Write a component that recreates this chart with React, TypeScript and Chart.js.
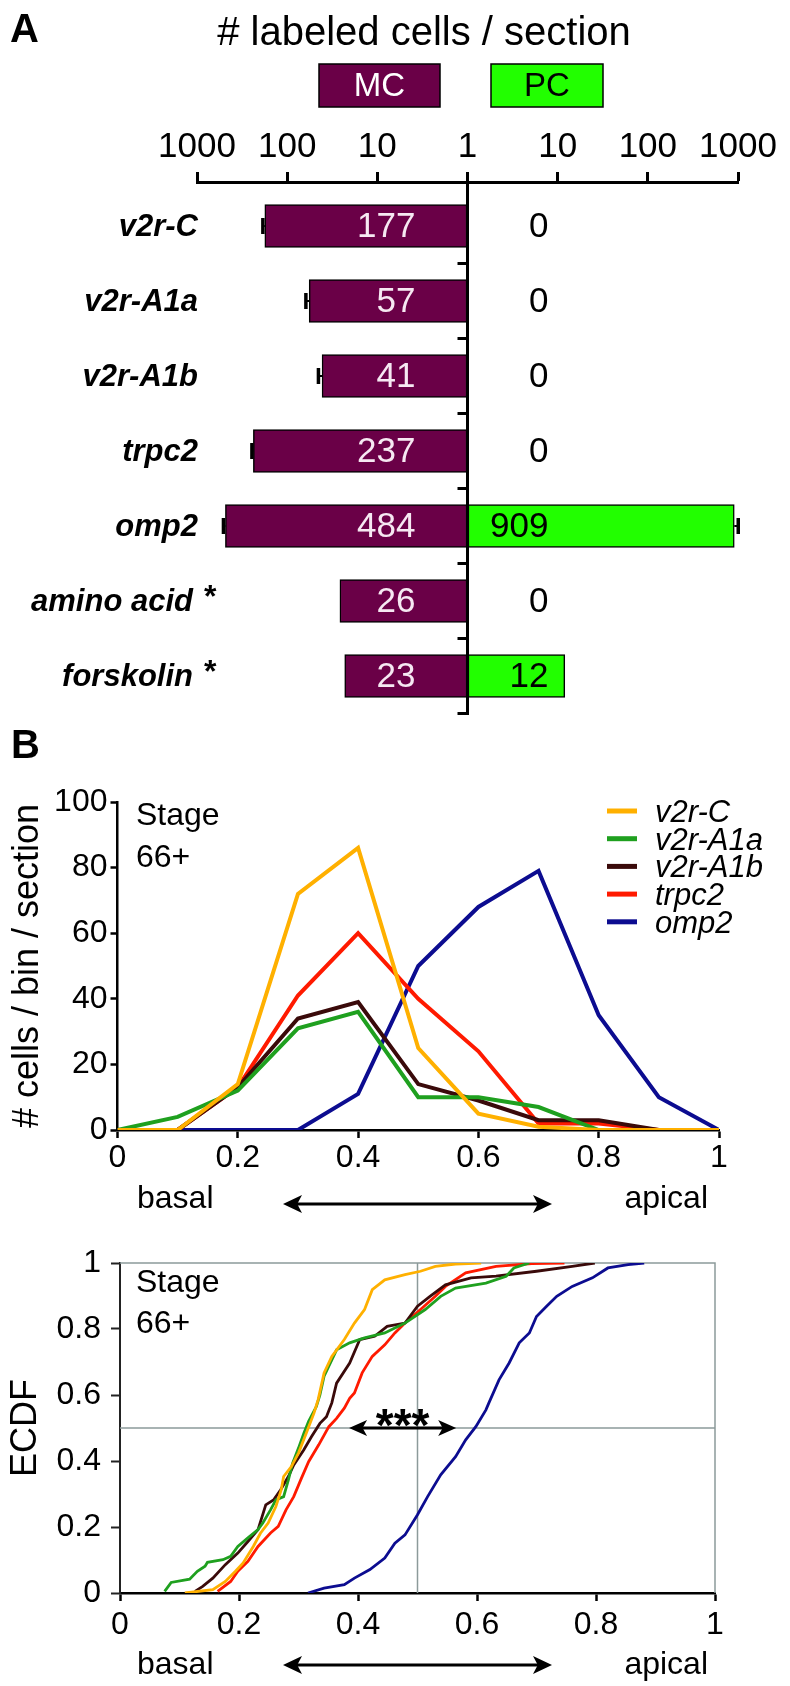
import React, { useEffect, useRef } from 'react';
import { Chart, registerables } from 'chart.js';

Chart.register(...registerables);

const FONT = "'Liberation Sans', Arial, Helvetica, sans-serif";

// ---------------- Panel A : labeled cells per section ----------------
const rowLabels = ['v2r-C', 'v2r-A1a', 'v2r-A1b', 'trpc2', 'omp2', 'amino acid', 'forskolin'];
const rowStarred = [false, false, false, false, false, true, true];
const mcCounts = [177, 57, 41, 237, 484, 26, 23];
const mcErrors = [9, 5, 4, 9, 25, 0, 0];
const pcCounts = [0, 0, 0, 0, 909, 0, 12];
const pcErrors = [0, 0, 0, 0, 97, 0, 0];
const logTickValues = [-3, -2, -1, 0, 1, 2, 3];
const logTickLabels = ['1000', '100', '10', '1', '10', '100', '1000'];
const MC_COLOR = '#6a0047';
const PC_COLOR = '#22ff00';

// ---------------- Panel B : histogram along basal-apical axis ----------------
const binPositions = [0, 0.1, 0.2, 0.3, 0.4, 0.5, 0.6, 0.7, 0.8, 0.9, 1];
const histV2rC = [0, 0, 14, 72, 86, 25, 5, 1, 0, 0, 0];
const histV2rA1a = [0, 4, 12, 31, 36, 10, 10, 7, 0, 0, 0];
const histV2rA1b = [0, 0, 13, 34, 39, 14, 9, 3, 3, 0, 0];
const histTrpc2 = [0, 0, 13, 41, 60, 40, 24, 2, 2, 0, 0];
const histOmp2 = [0, 0, 0, 0, 11, 50, 68, 79, 35, 10, 0];

const seriesNames = ['v2r-C', 'v2r-A1a', 'v2r-A1b', 'trpc2', 'omp2'];
const seriesColors = ['#ffb000', '#1fa01f', '#3a0a0a', '#ff1a00', '#0c0c90'];

// ---------------- Panel C : ECDF ----------------
const ecdfV2rCX = [0.109, 0.156, 0.177, 0.194, 0.207, 0.224, 0.236, 0.249, 0.262, 0.271, 0.275, 0.288, 0.300, 0.313, 0.326, 0.333, 0.343, 0.356, 0.377, 0.394, 0.411, 0.424, 0.445, 0.479, 0.505, 0.530, 0.564, 0.607];
const ecdfV2rCY = [0, 0.010, 0.035, 0.066, 0.091, 0.141, 0.181, 0.212, 0.262, 0.313, 0.353, 0.383, 0.424, 0.484, 0.545, 0.586, 0.667, 0.717, 0.768, 0.818, 0.859, 0.919, 0.949, 0.965, 0.975, 0.990, 0.997, 1.0];
const ecdfV2rA1aX = [0.075, 0.086, 0.117, 0.130, 0.143, 0.147, 0.173, 0.186, 0.198, 0.215, 0.232, 0.240, 0.253, 0.262, 0.275, 0.283, 0.290, 0.300, 0.309, 0.317, 0.330, 0.336, 0.343, 0.364, 0.386, 0.411, 0.445, 0.479, 0.513, 0.539, 0.564, 0.615, 0.649, 0.662, 0.688];
const ecdfV2rA1aY = [0.005, 0.032, 0.042, 0.066, 0.081, 0.093, 0.101, 0.111, 0.141, 0.167, 0.192, 0.212, 0.252, 0.282, 0.292, 0.343, 0.393, 0.439, 0.484, 0.520, 0.565, 0.600, 0.657, 0.737, 0.758, 0.773, 0.788, 0.818, 0.859, 0.899, 0.924, 0.939, 0.960, 0.985, 1.0];
const ecdfV2rA1bX = [0.126, 0.139, 0.156, 0.177, 0.198, 0.215, 0.232, 0.245, 0.258, 0.270, 0.283, 0.292, 0.309, 0.322, 0.336, 0.347, 0.356, 0.364, 0.386, 0.403, 0.428, 0.449, 0.479, 0.500, 0.521, 0.547, 0.590, 0.632, 0.700, 0.760, 0.798];
const ecdfV2rA1bY = [0.005, 0.020, 0.045, 0.086, 0.121, 0.156, 0.192, 0.267, 0.282, 0.313, 0.353, 0.388, 0.434, 0.474, 0.514, 0.534, 0.576, 0.636, 0.697, 0.768, 0.778, 0.808, 0.818, 0.869, 0.899, 0.934, 0.955, 0.960, 0.975, 0.990, 1.0];
const ecdfTrpc2X = [0.164, 0.186, 0.198, 0.215, 0.232, 0.253, 0.266, 0.279, 0.292, 0.305, 0.317, 0.334, 0.351, 0.364, 0.377, 0.386, 0.394, 0.407, 0.424, 0.445, 0.462, 0.479, 0.505, 0.530, 0.547, 0.581, 0.632, 0.692, 0.747];
const ecdfTrpc2Y = [0.005, 0.035, 0.066, 0.096, 0.141, 0.182, 0.202, 0.252, 0.292, 0.348, 0.398, 0.449, 0.504, 0.529, 0.560, 0.590, 0.606, 0.667, 0.717, 0.752, 0.788, 0.818, 0.859, 0.899, 0.929, 0.970, 0.990, 0.998, 1.0];
const ecdfOmp2X = [0.316, 0.343, 0.377, 0.394, 0.420, 0.445, 0.462, 0.479, 0.500, 0.517, 0.539, 0.564, 0.581, 0.598, 0.615, 0.620, 0.637, 0.654, 0.671, 0.688, 0.700, 0.717, 0.734, 0.760, 0.794, 0.820, 0.854, 0.881];
const ecdfOmp2Y = [0.0, 0.015, 0.025, 0.045, 0.071, 0.106, 0.151, 0.176, 0.237, 0.292, 0.358, 0.413, 0.464, 0.504, 0.555, 0.576, 0.646, 0.697, 0.758, 0.788, 0.838, 0.869, 0.899, 0.929, 0.955, 0.985, 0.995, 1.0];
const significanceSpan = [0.385, 0.565];
const GRAY = '#8c9a9a';

function font(size: number, weight = 'normal', style = 'normal') {
  return `${style} ${weight} ${size}px ${FONT}`;
}

const fmtTick = (v: number) => String(Math.round(v * 10) / 10);

function drawDoubleArrow(ctx: CanvasRenderingContext2D, x1: number, x2: number, y: number, lw: number, hl: number, hh: number) {
  ctx.save();
  ctx.strokeStyle = '#000';
  ctx.fillStyle = '#000';
  ctx.lineWidth = lw;
  ctx.beginPath();
  ctx.moveTo(x1 + hl * 0.7, y);
  ctx.lineTo(x2 - hl * 0.7, y);
  ctx.stroke();
  ctx.beginPath();
  ctx.moveTo(x1, y);
  ctx.lineTo(x1 + hl, y - hh);
  ctx.lineTo(x1 + hl * 0.75, y);
  ctx.lineTo(x1 + hl, y + hh);
  ctx.closePath();
  ctx.fill();
  ctx.beginPath();
  ctx.moveTo(x2, y);
  ctx.lineTo(x2 - hl, y - hh);
  ctx.lineTo(x2 - hl * 0.75, y);
  ctx.lineTo(x2 - hl, y + hh);
  ctx.closePath();
  ctx.fill();
  ctx.restore();
}

function drawRotated(ctx: CanvasRenderingContext2D, text: string, cx: number, cy: number, f: string) {
  ctx.save();
  ctx.translate(cx, cy);
  ctx.rotate(-Math.PI / 2);
  ctx.font = f;
  ctx.fillStyle = '#000';
  ctx.textAlign = 'center';
  ctx.textBaseline = 'middle';
  ctx.fillText(text, 0, 0);
  ctx.restore();
}

function drawBasalApical(ctx: CanvasRenderingContext2D, textY: number, arrowY: number) {
  ctx.save();
  ctx.font = font(32);
  ctx.fillStyle = '#000';
  ctx.textBaseline = 'middle';
  ctx.textAlign = 'left';
  ctx.fillText('basal', 137, textY);
  ctx.textAlign = 'right';
  ctx.fillText('apical', 708, textY);
  ctx.restore();
  drawDoubleArrow(ctx, 283, 552, arrowY, 3, 19, 9);
}

function drawStage(ctx: CanvasRenderingContext2D, x: number, y1: number, y2: number) {
  ctx.save();
  ctx.font = font(32);
  ctx.fillStyle = '#000';
  ctx.textAlign = 'left';
  ctx.textBaseline = 'alphabetic';
  ctx.fillText('Stage', x, y1);
  ctx.fillText('66+', x, y2);
  ctx.restore();
}

// ---------------- configs ----------------
function configA(): any {
  const mcData = mcCounts.map((v, i) => ({ y: i, x: [-Math.log10(v), 0] }));
  const pcData = pcCounts
    .map((v, i) => (v > 0 ? { y: i, x: [0, Math.log10(v)] } : null))
    .filter((d) => d !== null);

  const plugin = {
    id: 'panelA',
    afterDatasetsDraw(chart: any) {
      const ctx: CanvasRenderingContext2D = chart.ctx;
      const xs = chart.scales.x;
      const ys = chart.scales.y;
      const x0 = xs.getPixelForValue(0);
      ctx.save();
      ctx.strokeStyle = '#000';
      const drawErr = (xb: number, xe: number, yc: number) => {
        ctx.lineWidth = 2;
        ctx.beginPath();
        ctx.moveTo(xb, yc);
        ctx.lineTo(xe, yc);
        ctx.stroke();
        ctx.lineWidth = 3.5;
        ctx.beginPath();
        ctx.moveTo(xe, yc - 8);
        ctx.lineTo(xe, yc + 8);
        ctx.stroke();
      };
      mcCounts.forEach((v, i) => {
        if (!mcErrors[i]) return;
        const yc = ys.getPixelForValue(i);
        drawErr(xs.getPixelForValue(-Math.log10(v)), xs.getPixelForValue(-Math.log10(v + mcErrors[i])), yc);
      });
      pcCounts.forEach((v, i) => {
        if (!pcErrors[i] || v <= 0) return;
        const yc = ys.getPixelForValue(i);
        drawErr(xs.getPixelForValue(Math.log10(v)), xs.getPixelForValue(Math.log10(v + pcErrors[i])), yc);
      });
      // centre axis line with row-boundary ticks
      ctx.lineWidth = 3;
      ctx.beginPath();
      ctx.moveTo(x0, chart.chartArea.top);
      ctx.lineTo(x0, ys.getPixelForValue(rowLabels.length - 0.5) + 1.5);
      ctx.stroke();
      for (let i = 0; i < rowLabels.length; i++) {
        const y = ys.getPixelForValue(i + 0.5);
        ctx.beginPath();
        ctx.moveTo(x0 - 10, y);
        ctx.lineTo(x0, y);
        ctx.stroke();
      }
      // category labels
      ctx.fillStyle = '#000';
      ctx.textBaseline = 'middle';
      rowLabels.forEach((lab, i) => {
        const yc = ys.getPixelForValue(i) + 1;
        ctx.font = font(31, 'bold', 'italic');
        ctx.textAlign = 'right';
        if (rowStarred[i]) {
          ctx.fillText(lab, 193, yc);
          ctx.font = font(32, 'bold');
          ctx.textAlign = 'left';
          ctx.textBaseline = 'alphabetic';
          ctx.fillText('*', 204, yc + 5);
          ctx.textBaseline = 'middle';
        } else {
          ctx.fillText(lab, 198, yc);
        }
      });
      // value labels
      ctx.font = font(35);
      ctx.textAlign = 'right';
      mcCounts.forEach((v, i) => {
        ctx.fillStyle = '#f6e8f2';
        ctx.fillText(String(v), x0 - 52, ys.getPixelForValue(i) + 1);
      });
      pcCounts.forEach((v, i) => {
        ctx.fillStyle = '#000';
        ctx.fillText(String(v), x0 + 81, ys.getPixelForValue(i) + 1);
      });
      ctx.restore();
    },
    afterDraw(chart: any) {
      const ctx: CanvasRenderingContext2D = chart.ctx;
      ctx.save();
      ctx.fillStyle = '#000';
      ctx.font = font(40, 'bold');
      ctx.textAlign = 'left';
      ctx.textBaseline = 'alphabetic';
      ctx.fillText('A', 10, 42);
      ctx.font = font(40);
      ctx.textAlign = 'center';
      ctx.fillText('# labeled cells / section', 424, 45);
      const boxes = [
        { x: 319, w: 121, fill: MC_COLOR, text: 'MC', tc: '#ffffff' },
        { x: 491, w: 112, fill: PC_COLOR, text: 'PC', tc: '#000000' },
      ];
      boxes.forEach((b) => {
        ctx.fillStyle = b.fill;
        ctx.fillRect(b.x, 64, b.w, 43);
        ctx.lineWidth = 1.5;
        ctx.strokeStyle = '#000';
        ctx.strokeRect(b.x, 64, b.w, 43);
        ctx.fillStyle = b.tc;
        ctx.font = font(33);
        ctx.textAlign = 'center';
        ctx.textBaseline = 'middle';
        ctx.fillText(b.text, b.x + b.w / 2, 87);
      });
      ctx.restore();
    },
  };

  return {
    type: 'bar',
    data: {
      datasets: [
        { label: 'MC', data: mcData, backgroundColor: MC_COLOR, borderColor: '#000', borderWidth: 1.5, borderSkipped: false, barThickness: 43, grouped: false },
        { label: 'PC', data: pcData, backgroundColor: PC_COLOR, borderColor: '#000', borderWidth: 1.5, borderSkipped: false, barThickness: 43, grouped: false },
      ],
    },
    options: {
      indexAxis: 'y',
      responsive: false,
      animation: false,
      devicePixelRatio: 1,
      events: [],
      layout: { padding: { left: 197, right: 52, top: 0, bottom: 11.5 } },
      plugins: { legend: { display: false }, tooltip: { enabled: false } },
      scales: {
        x: {
          type: 'linear',
          position: 'top',
          bounds: 'data',
          min: -3,
          max: 3,
          afterBuildTicks: (s: any) => {
            s.ticks = logTickValues.map((v) => ({ value: v }));
          },
          afterFit: (s: any) => {
            s.height = 182;
          },
          ticks: {
            callback: (v: number) => logTickLabels[logTickValues.indexOf(v)],
            font: { family: FONT, size: 35 },
            color: '#000',
            padding: 3.5,
            maxRotation: 0,
            autoSkip: false,
          },
          grid: { drawOnChartArea: false, drawTicks: true, tickLength: 10, tickWidth: 3, tickColor: '#000' },
          border: { display: true, color: '#000', width: 3 },
        },
        y: {
          type: 'linear',
          bounds: 'data',
          reverse: true,
          min: -0.587,
          max: 6.5,
          offset: false,
          display: false,
          afterDataLimits: (s: any) => {
            s.min = -0.587;
            s.max = 6.5;
          },
        },
      },
    },
    plugins: [plugin],
  };
}

function configB(): any {
  const hist = [histV2rC, histV2rA1a, histV2rA1b, histTrpc2, histOmp2];
  const plugin = {
    id: 'panelB',
    afterDraw(chart: any) {
      const ctx: CanvasRenderingContext2D = chart.ctx;
      const area = chart.chartArea;
      ctx.save();
      ctx.fillStyle = '#000';
      ctx.font = font(40, 'bold');
      ctx.textAlign = 'left';
      ctx.textBaseline = 'alphabetic';
      ctx.fillText('B', 11, 33);
      ctx.restore();
      drawRotated(ctx, '# cells / bin / section', 28, (area.top + area.bottom) / 2, font(36));
      drawStage(ctx, 136, 100, 142);
      ctx.save();
      seriesNames.forEach((n, i) => {
        const y = 86 + i * 27.7;
        ctx.strokeStyle = seriesColors[i];
        ctx.lineWidth = 5;
        ctx.beginPath();
        ctx.moveTo(607, y);
        ctx.lineTo(637, y);
        ctx.stroke();
        ctx.fillStyle = '#000';
        ctx.font = font(31, 'normal', 'italic');
        ctx.textAlign = 'left';
        ctx.textBaseline = 'alphabetic';
        ctx.fillText(n, 655, y + 11);
      });
      ctx.restore();
      drawBasalApical(ctx, 1199 - 725, 1204 - 725);
    },
  };
  return {
    type: 'line',
    data: {
      datasets: hist.map((arr, k) => ({
        label: seriesNames[k],
        data: binPositions.map((x, i) => ({ x, y: arr[i] })),
        borderColor: seriesColors[k],
        borderWidth: 4,
        pointRadius: 0,
        tension: 0,
        fill: false,
      })),
    },
    options: {
      responsive: false,
      animation: false,
      devicePixelRatio: 1,
      events: [],
      layout: { padding: { left: 0, right: 71, top: 77, bottom: 0 } },
      plugins: { legend: { display: false }, tooltip: { enabled: false } },
      scales: {
        x: {
          type: 'linear',
          bounds: 'data',
          min: 0,
          max: 1,
          afterFit: (s: any) => {
            s.height = 90;
          },
          ticks: { stepSize: 0.2, callback: fmtTick, font: { family: FONT, size: 32 }, color: '#000', padding: 1, maxRotation: 0 },
          grid: { drawOnChartArea: false, tickLength: 8, tickWidth: 2.5, tickColor: '#000' },
          border: { color: '#000', width: 2.5 },
        },
        y: {
          type: 'linear',
          bounds: 'data',
          min: 0,
          max: 100,
          afterFit: (s: any) => {
            s.width = 117.5;
          },
          ticks: { stepSize: 20, font: { family: FONT, size: 32 }, color: '#000', padding: 3 },
          grid: { drawOnChartArea: false, tickLength: 7, tickWidth: 2.5, tickColor: '#000' },
          border: { color: '#000', width: 2.5 },
        },
      },
    },
    plugins: [plugin],
  };
}

function configC(): any {
  const xs = [ecdfV2rCX, ecdfV2rA1aX, ecdfV2rA1bX, ecdfTrpc2X, ecdfOmp2X];
  const ys = [ecdfV2rCY, ecdfV2rA1aY, ecdfV2rA1bY, ecdfTrpc2Y, ecdfOmp2Y];
  const plugin = {
    id: 'panelC',
    beforeDatasetsDraw(chart: any) {
      const ctx: CanvasRenderingContext2D = chart.ctx;
      const sx = chart.scales.x;
      const sy = chart.scales.y;
      ctx.save();
      ctx.strokeStyle = GRAY;
      ctx.lineWidth = 1.5;
      ctx.beginPath();
      ctx.moveTo(sx.getPixelForValue(0), sy.getPixelForValue(1));
      ctx.lineTo(sx.getPixelForValue(1), sy.getPixelForValue(1));
      ctx.lineTo(sx.getPixelForValue(1), sy.getPixelForValue(0));
      ctx.moveTo(sx.getPixelForValue(0.5), sy.getPixelForValue(1));
      ctx.lineTo(sx.getPixelForValue(0.5), sy.getPixelForValue(0));
      ctx.moveTo(sx.getPixelForValue(0), sy.getPixelForValue(0.5));
      ctx.lineTo(sx.getPixelForValue(1), sy.getPixelForValue(0.5));
      ctx.stroke();
      ctx.restore();
    },
    afterDraw(chart: any) {
      const ctx: CanvasRenderingContext2D = chart.ctx;
      const area = chart.chartArea;
      const sx = chart.scales.x;
      const sy = chart.scales.y;
      drawRotated(ctx, 'ECDF', 26, (area.top + area.bottom) / 2, font(36));
      drawStage(ctx, 136, 72, 113);
      const y5 = sy.getPixelForValue(0.5);
      const xa = sx.getPixelForValue(significanceSpan[0]);
      const xb = sx.getPixelForValue(significanceSpan[1]);
      drawDoubleArrow(ctx, xa, xb, y5, 3, 18, 8);
      ctx.save();
      ctx.fillStyle = '#000';
      ctx.font = font(46, 'bold');
      ctx.textAlign = 'center';
      ctx.textBaseline = 'alphabetic';
      ctx.fillText('***', (xa + xb) / 2, y5 + 13);
      ctx.restore();
      drawBasalApical(ctx, 1665 - 1220, 1665 - 1220);
    },
  };
  return {
    type: 'line',
    data: {
      datasets: xs.map((arr, k) => ({
        label: seriesNames[k],
        data: arr.map((x, i) => ({ x, y: ys[k][i] })),
        borderColor: seriesColors[k],
        borderWidth: 2.8,
        pointRadius: 0,
        tension: 0,
        fill: false,
      })),
    },
    options: {
      responsive: false,
      animation: false,
      devicePixelRatio: 1,
      events: [],
      layout: { padding: { left: 0, right: 75, top: 43, bottom: 0 } },
      plugins: { legend: { display: false }, tooltip: { enabled: false } },
      scales: {
        x: {
          type: 'linear',
          bounds: 'data',
          min: 0,
          max: 1,
          afterFit: (s: any) => {
            s.height = 93;
          },
          ticks: { stepSize: 0.2, callback: fmtTick, font: { family: FONT, size: 32 }, color: '#000', padding: 5, maxRotation: 0 },
          grid: { drawOnChartArea: false, tickLength: 8, tickWidth: 2.5, tickColor: '#000' },
          border: { color: '#000', width: 2.5 },
        },
        y: {
          type: 'linear',
          bounds: 'data',
          min: 0,
          max: 1,
          afterFit: (s: any) => {
            s.width = 120;
          },
          ticks: { stepSize: 0.2, callback: fmtTick, font: { family: FONT, size: 32 }, color: '#000', padding: 10 },
          grid: { drawOnChartArea: false, tickLength: 9, tickWidth: 2, tickColor: '#222' },
          border: { color: '#222', width: 2 },
        },
      },
    },
    plugins: [plugin],
  };
}

export default function App() {
  const aRef = useRef<HTMLCanvasElement>(null);
  const bRef = useRef<HTMLCanvasElement>(null);
  const cRef = useRef<HTMLCanvasElement>(null);

  useEffect(() => {
    const charts = [
      new Chart(aRef.current as HTMLCanvasElement, configA()),
      new Chart(bRef.current as HTMLCanvasElement, configB()),
      new Chart(cRef.current as HTMLCanvasElement, configC()),
    ];
    return () => charts.forEach((c) => c.destroy());
  }, []);

  const cs = (top: number, h: number): React.CSSProperties => ({ position: 'absolute', left: 0, top, width: 790, height: h, display: 'block' });

  return (
    <div style={{ position: 'absolute', left: 0, top: 0, width: 790, height: 1686, background: '#fff', overflow: 'hidden' }}>
      <canvas ref={aRef} width={790} height={725} style={cs(0, 725)} />
      <canvas ref={bRef} width={790} height={495} style={cs(725, 495)} />
      <canvas ref={cRef} width={790} height={466} style={cs(1220, 466)} />
    </div>
  );
}
